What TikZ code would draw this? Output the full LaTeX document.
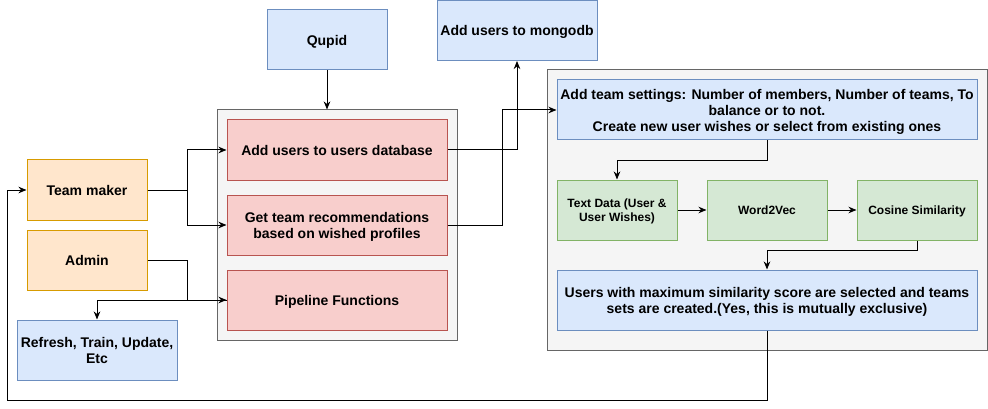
\documentclass[tikz,border=0pt]{standalone}
\usepackage{fontspec}
\setmainfont{Liberation Sans}
\usetikzlibrary{arrows.meta}
\definecolor{bfill}{HTML}{DAE8FC}\definecolor{bline}{HTML}{6C8EBF}
\definecolor{ofill}{HTML}{FFE6CC}\definecolor{oline}{HTML}{D79B00}
\definecolor{rfill}{HTML}{F8CECC}\definecolor{rline}{HTML}{B85450}
\definecolor{gfill}{HTML}{D5E8D4}\definecolor{gline}{HTML}{82B366}
\definecolor{kfill}{HTML}{F5F5F5}\definecolor{kline}{HTML}{666666}
\tikzset{
  base/.style={draw, line width=1pt, inner sep=2pt, align=center, text depth=0pt,
    font=\fontsize{14}{16}\selectfont\bfseries},
  bluebox/.style={base, fill=bfill, draw=bline},
  orangebox/.style={base, fill=ofill, draw=oline, minimum width=120pt, minimum height=60pt},
  redbox/.style={base, fill=rfill, draw=rline, minimum width=220pt, minimum height=60pt},
  greenbox/.style={base, fill=gfill, draw=gline, minimum width=120pt, minimum height=60pt,
    font=\fontsize{12}{14}\selectfont\bfseries},
  graybox/.style={draw=kline, fill=kfill, line width=1pt},
  arr/.style={draw, line width=1pt, -{Stealth[length=8pt,width=6.5pt,inset=2.5pt]}}
}
\begin{document}
\begin{tikzpicture}[x=1pt,y=-1pt]
\useasboundingbox[fill=white] (0,0) rectangle (988,409);
% containers
\node[graybox, minimum width=240pt, minimum height=230pt] (midbg) at (337,225) {};
\node[graybox, minimum width=440pt, minimum height=280pt] (rightbg) at (767,210) {};
% top
\node[bluebox, minimum width=120pt, minimum height=60pt] (qupid) at (327,40) {Qupid};
\node[bluebox, minimum width=160pt, minimum height=60pt] (mongo) at (517,30.5) {Add users to mongodb};
% middle
\node[redbox] (r1) at (337,150) {Add users to users database};
\node[redbox] (r2) at (337,225) {Get team recommendations\\based on wished profiles};
\node[redbox] (r3) at (337,300) {Pipeline Functions};
% left
\node[orangebox] (team) at (87,190) {Team maker};
\node[orangebox] (admin) at (87,260) {Admin};
\node[bluebox, minimum width=160pt, minimum height=60pt] (refresh) at (97,350) {Refresh, Train, Update,\\Etc};
% right
\node[bluebox, minimum width=420pt, minimum height=60pt] (settings) at (767,110)
  {Add team settings: Number of members, Number of teams, To\\balance or to not.\\Create new user wishes or select from existing ones};
\node[greenbox] (g1) at (617,210) {Text Data (User \&\\User Wishes)};
\node[greenbox] (g2) at (767,210) {Word2Vec};
\node[greenbox] (g3) at (917,210) {Cosine Similarity};
\node[bluebox, minimum width=420pt, minimum height=60pt] (users) at (767,300)
  {Users with maximum similarity score are selected and teams\\sets are created.(Yes, this is mutually exclusive)};
\coordinate (loop) at (7,400);
% connectors
\draw[arr] (qupid.south) -- (qupid.south |- midbg.north);
\draw[arr] (team.east) -- ++(40,0) |- (r1.west);
\draw[arr] (team.east) -- ++(40,0) |- (r2.west);
\draw[arr] (admin.east) -- ++(40,0) |- (r3.west);
\draw[arr] (r3.west) -| (refresh.north);
\draw[arr] (r1.east) -| (mongo.south);
\draw[arr] (r2.east) -- ++(55,0) |- (settings.west);
\draw[arr] (settings.south) -- ++(0,20) -| (g1.north);
\draw[arr] (g1.east) -- (g2.west);
\draw[arr] (g2.east) -- (g3.west);
\draw[arr] (g3.south) -- ++(0,10) -| (users.north);
\draw[arr] (users.south) |- (loop) |- (team.west);
\end{tikzpicture}
\end{document}
